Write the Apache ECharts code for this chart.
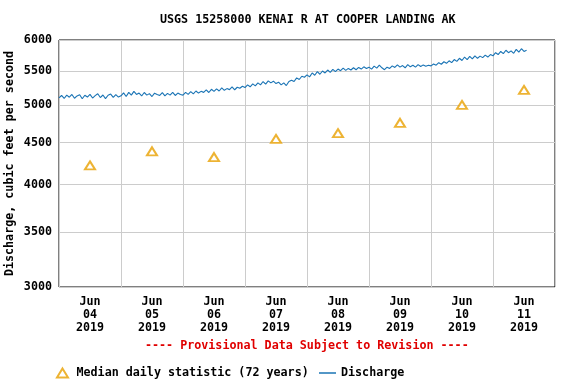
<!DOCTYPE html>
<html><head><meta charset="utf-8">
<script src="https://cdn.jsdelivr.net/npm/echarts@6/dist/echarts.min.js"></script>
<style>html,body{margin:0;padding:0;background:#fff}#c{width:576px;height:384px}</style>
</head><body><div id="c"></div>
<script>
const titleText = 'USGS 15258000 KENAI R AT COOPER LANDING AK';
const dayLabels = ['Jun\n04\n2019','Jun\n05\n2019','Jun\n06\n2019','Jun\n07\n2019','Jun\n08\n2019','Jun\n09\n2019','Jun\n10\n2019','Jun\n11\n2019'];
const yTicks = [3000,3500,4000,4500,5000,5500,6000];
// median daily statistic, one per day (at noon)
const medianValues = [4220,4390,4320,4545,4620,4755,5000,5215];
// hourly discharge from Jun 04 00:00
const discharge = [
5100,5135,5092,5140,5110,5150,5095,5128,5145,5088,5138,5112,5150,5098,5132,5160,5105,5142,5090,5138,5155,5108,5146,5112,
5130,5172,5120,5180,5140,5195,5150,5170,5128,5178,5140,5162,5120,5168,5150,5135,5175,5130,5165,5140,5180,5135,5170,5150,
5140,5180,5150,5190,5158,5200,5170,5195,5180,5215,5178,5225,5195,5230,5200,5245,5210,5235,5220,5260,5218,5255,5240,5270,
5250,5290,5262,5305,5275,5320,5290,5340,5300,5350,5320,5345,5310,5330,5290,5320,5280,5340,5360,5340,5395,5370,5420,5405,
5440,5410,5470,5435,5490,5450,5500,5470,5515,5480,5525,5490,5530,5505,5545,5510,5540,5515,5550,5520,5555,5530,5565,5540,
5560,5530,5575,5545,5590,5550,5520,5560,5540,5580,5555,5595,5560,5585,5550,5600,5565,5590,5560,5600,5570,5595,5575,5590,
5580,5610,5590,5630,5605,5645,5620,5660,5630,5680,5650,5700,5665,5720,5680,5730,5690,5740,5700,5735,5710,5750,5720,5760,
5740,5790,5760,5810,5775,5830,5790,5820,5780,5845,5800,5855,5810,5830
];
const provisional = '---- Provisional Data Subject to Revision ----';
const medianName = 'Median daily statistic (72 years)';
const dischargeName = 'Discharge';

const FONT = '"DejaVu Sans Mono", "Liberation Mono", monospace';
const TS = {fontFamily:FONT,fontSize:11.7,fontWeight:'bold',color:'#000'};
const chart = echarts.init(document.getElementById('c'), null, {renderer:'canvas'});
const dayStarts = dayLabels.map((d,i)=>i*24).concat([dayLabels.length*24]);
const dayMids = dayLabels.map((d,i)=>i*24+12);
chart.setOption({
  animation:false,
  backgroundColor:'#fff',
  title:{text:titleText,left:155,top:9,textStyle:TS},
  grid:{left:59,right:21,top:40,bottom:97,containLabel:false,outerBoundsMode:'none',
    show:true,borderColor:'#000',borderWidth:1,backgroundColor:'transparent'},
  legend:[
    {left:51,top:362,itemWidth:11,itemHeight:9,padding:5,
      textStyle:{...TS,padding:[0,0,0,3.5]},
      data:[{name:medianName,icon:'emptyTriangle'}]},
    {left:314,top:362,itemWidth:17,itemHeight:1.5,padding:5,textStyle:TS,
      data:[{name:dischargeName,icon:'rect'}]}
  ],
  xAxis:{type:'value',min:0,max:dayLabels.length*24,
    axisLine:{show:false},
    axisTick:{show:false,customValues:dayStarts},
    splitLine:{show:true,lineStyle:{color:'#cccccc',width:1}},
    axisLabel:{customValues:dayMids,margin:8,lineHeight:13,...TS,
      formatter:v=>dayLabels[Math.round((v-12)/24)]}},
  yAxis:{type:'log',min:3000,max:6000,
    name:'Discharge, cubic feet per second',nameLocation:'middle',nameGap:43,nameMoveOverlap:false,
    nameTextStyle:TS,
    axisLine:{show:false},
    axisTick:{show:false,customValues:yTicks},
    splitLine:{show:true,lineStyle:{color:'#cccccc',width:1}},
    axisLabel:{customValues:yTicks,margin:7,...TS,
      formatter:v=>String(Math.round(v))}},
  graphic:[{type:'text',left:145,top:340,
    style:{text:provisional,fill:'#e00000',font:'bold 11.7px '+FONT}}],
  series:[
    {name:dischargeName,type:'line',symbol:'none',data:discharge.map((v,i)=>[i,v]),
      lineStyle:{color:'#1a74b5',width:1.1},itemStyle:{color:'#1a74b5'},z:2},
    {name:medianName,type:'scatter',symbol:'emptyTriangle',symbolSize:[10,8],
      data:medianValues.map((v,i)=>[dayMids[i],v]),
      itemStyle:{color:'#e8a000',borderColor:'#e8a000',borderWidth:1},z:3}
  ]
});
</script></body></html>
